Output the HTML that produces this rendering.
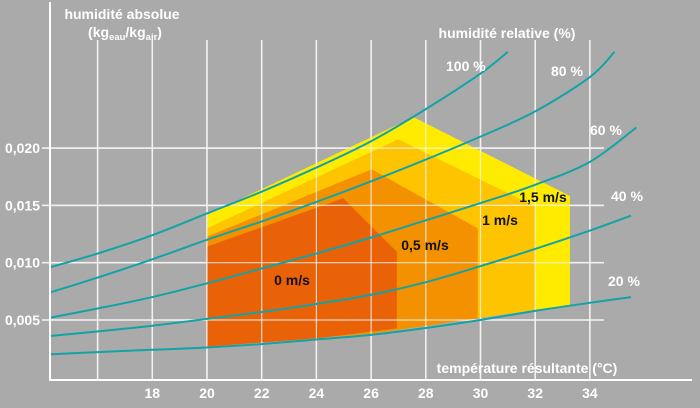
<!DOCTYPE html>
<html><head><meta charset="utf-8">
<style>
html,body{margin:0;padding:0;background:#aaaaaa;}
svg{display:block;font-family:"Liberation Sans",sans-serif;font-weight:bold;}
</style></head>
<body>
<svg id="chart" width="700" height="408" viewBox="0 0 700 408" xmlns="http://www.w3.org/2000/svg">
<rect x="0" y="0" width="700" height="408" fill="#aaaaaa"/>
<g id="grid"></g>
<g id="zones"></g>
<g id="curves"></g>
<g id="axes"></g>
<g id="labels">
<text x="122" y="19" fill="#fff" font-size="14" text-anchor="middle">humidité absolue</text>
<text x="125" y="37" fill="#fff" font-size="14" text-anchor="middle">(kg<tspan font-size="9.5" dy="3">eau</tspan><tspan dy="-3">/kg</tspan><tspan font-size="9.5" dy="3">air</tspan><tspan dy="-3">)</tspan></text>
<text x="507" y="38" fill="#fff" font-size="14" text-anchor="middle">humidité relative (%)</text>
<text x="527" y="373" fill="#fff" font-size="14" text-anchor="middle">température résultante (°C)</text>
</g>
</svg>
<script>
const temps = [14.3, 16, 18, 20, 22, 24, 26, 28, 30, 32, 34];
const rh100 = [0.0096, 0.0108, 0.0124, 0.0143, 0.0162, 0.0183, 0.0206, 0.0234, 0.0265, null, null];
const rh80  = [0.0074, 0.0087, 0.0103, 0.0120, 0.0136, 0.0153, 0.0171, 0.0190, 0.0210, 0.0232, 0.0262];
const rh60  = [0.0052, 0.0060, 0.0070, 0.0082, 0.0095, 0.0108, 0.0122, 0.0137, 0.0152, 0.0168, 0.0188];
const rh40  = [0.0036, 0.0040, 0.0045, 0.0051, 0.0057, 0.0064, 0.0072, 0.0083, 0.0097, 0.0112, 0.0128];
const rh20  = [0.0020, 0.0022, 0.0024, 0.0026, 0.0029, 0.0033, 0.0037, 0.0043, 0.0050, 0.0058, 0.0065];
const curveEndT = [31.0, 34.9, 35.7, 35.5, 35.5];
const curveEndH = [0.0284, 0.0284, 0.0218, 0.0141, 0.0070];
const curveNames = ["100 %", "80 %", "60 %", "40 %", "20 %"];
const zone15T = [20, 27.55, 33.27, 33.27, 27, 20];
const zone15H = [0.01416, 0.0227, 0.01582, 0.00631, 0.0042, 0.00267];
const zone1T  = [20, 27.0, 32.0, 32.0, 27, 20];
const zone1H  = [0.0130, 0.02077, 0.0149, 0.00587, 0.0042, 0.00267];
const zone05T = [20, 26.02, 29.9, 29.9, 26, 20];
const zone05H = [0.01227, 0.01815, 0.0130, 0.00515, 0.0038, 0.00267];
const zone0T  = [20, 24.98, 26.94, 26.94, 24, 20];
const zone0H  = [0.0114, 0.01562, 0.01096, 0.00427, 0.0034, 0.00267];
const zoneLabels = ["1,5 m/s", "1 m/s", "0,5 m/s", "0 m/s"];
const xTicks = [18, 20, 22, 24, 26, 28, 30, 32, 34];
const xGrid = [16, 18, 20, 22, 24, 26, 28, 30, 32, 34];
const yTicks = [0.005, 0.010, 0.015, 0.020];
const yTickLabels = ["0,005", "0,010", "0,015", "0,020"];

const NS = "http://www.w3.org/2000/svg";
function xs(t){ return 207 + (t - 20) * 27.35; }
function ys(h){ return 320 - (h - 0.005) / 0.005 * 57.3; }
function mk(tag, attrs, parent){ const e = document.createElementNS(NS, tag); for (const k in attrs) e.setAttribute(k, attrs[k]); parent.appendChild(e); return e; }

const grid = document.getElementById('grid');
xGrid.forEach(t => {
  const l = mk('line', {x1: xs(t), x2: xs(t), y1: 40, y2: 380, stroke: '#ececec', 'stroke-width': 1.6}, grid);
  
  
});
yTicks.forEach(h => {
  const l = mk('line', {x1: 42, x2: 604, y1: ys(h), y2: ys(h), stroke: '#ececec', 'stroke-width': 1.6}, grid);
  
  
});

const zones = document.getElementById('zones');
const zoneData = [[zone15T, zone15H, '#ffeb00'], [zone1T, zone1H, '#ffc400'], [zone05T, zone05H, '#f39100'], [zone0T, zone0H, '#e96208']];
zoneData.forEach((z, i) => {
  const pts = z[0].map((t, j) => xs(t) + ',' + ys(z[1][j])).join(' ');
  const p = mk('polygon', {points: pts, fill: z[2]}, zones);
  
  
});
xGrid.forEach(t => {
  const l = mk('line', {x1: xs(t), x2: xs(t), y1: 40, y2: 380, stroke: '#f4f4f4', 'stroke-width': 1.2, opacity: 0.8}, zones);
  
  
});
yTicks.forEach(h => {
  const l = mk('line', {x1: 42, x2: 604, y1: ys(h), y2: ys(h), stroke: '#f4f4f4', 'stroke-width': 1.2, opacity: 0.8}, zones);
  
  
});

const zlPos = [[543, 202], [500, 225], [425, 250], [292, 285]];
zoneLabels.forEach((s, i) => {
  const t = mk('text', {x: zlPos[i][0], y: zlPos[i][1], fill: '#111', 'font-size': 14, 'text-anchor': 'middle'}, zones);
  t.textContent = s;
  
  
});

const curves = document.getElementById('curves');
[rh100, rh80, rh60, rh40, rh20].forEach((arr, i) => {
  const pts = [];
  temps.forEach((t, j) => { if (arr[j] !== null) pts.push([xs(t), ys(arr[j])]); });
  pts.push([xs(curveEndT[i]), ys(curveEndH[i])]);
  pts[0][0] = 50;
  let d = 'M' + pts[0][0] + ',' + pts[0][1];
  for (let k = 1; k < pts.length; k++) {
    const p0 = pts[k - 2] || pts[k - 1], p1 = pts[k - 1], p2 = pts[k], p3 = pts[k + 1] || p2;
    const c1x = p1[0] + (p2[0] - p0[0]) / 6, c1y = p1[1] + (p2[1] - p0[1]) / 6;
    const c2x = p2[0] - (p3[0] - p1[0]) / 6, c2y = p2[1] - (p3[1] - p1[1]) / 6;
    d += ' C' + c1x + ',' + c1y + ' ' + c2x + ',' + c2y + ' ' + p2[0] + ',' + p2[1];
  }
  const path = mk('path', {d: d, fill: 'none', stroke: '#13a3a6', 'stroke-width': 2}, curves);
  
  
});
const clPos = [[446, 71], [551, 76], [590, 135], [611, 201], [608, 286]];
curveNames.forEach((s, i) => {
  const t = mk('text', {x: clPos[i][0], y: clPos[i][1], fill: '#fff', 'font-size': 14}, curves);
  t.textContent = s;
  
  
});

const axes = document.getElementById('axes');
let a = mk('line', {x1: 50, x2: 50, y1: 2, y2: 381, stroke: '#fff', 'stroke-width': 2}, axes);


a = mk('line', {x1: 49, x2: 692, y1: 380, y2: 380, stroke: '#fff', 'stroke-width': 2}, axes);


yTicks.forEach((h, i) => {
  const t = mk('text', {x: 40, y: ys(h) + 5, fill: '#fff', 'font-size': 14, 'text-anchor': 'end'}, axes);
  t.textContent = yTickLabels[i];
  
  
});
xTicks.forEach(v => {
  const t = mk('text', {x: xs(v), y: 398, fill: '#fff', 'font-size': 14, 'text-anchor': 'middle'}, axes);
  t.textContent = v;
  
  
});
</script>
</body></html>
